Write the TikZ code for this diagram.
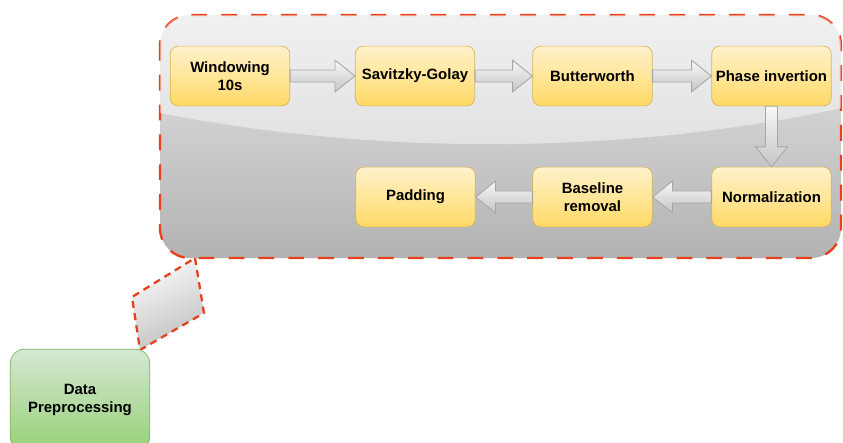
\documentclass[tikz,border=0pt]{standalone}
\usepackage{fontspec}
\setmainfont{Liberation Sans}
\usepackage{tikz}
\usetikzlibrary{calc}

\definecolor{dashred}{RGB}{232,64,28}
\definecolor{boxtop}{HTML}{FFF2CC}
\definecolor{boxbottom}{HTML}{FFD966}
\definecolor{boxline}{HTML}{D6B656}
\definecolor{greentop}{HTML}{D5E8D4}
\definecolor{greenbottom}{HTML}{97D077}
\definecolor{greenline}{HTML}{82B366}

\tikzset{
    stepbox/.style={draw=boxline, top color=boxtop, bottom color=boxbottom,
        rounded corners=4.5pt, minimum width=68pt, minimum height=34pt,
        align=center, inner sep=1pt,
        font=\fontsize{8.5}{10.4}\selectfont\bfseries},
    groupbox/.style={draw=greenline, top color=greentop, bottom color=greenbottom,
        rounded corners=8pt, minimum width=79.4pt, minimum height=57.8pt,
        align=center, font=\fontsize{8.5}{10.4}\selectfont\bfseries},
    blockarrow/.style={draw=gray!70, top color=gray!6, bottom color=gray!45,
        line width=0.5pt, line join=miter},
    reddash/.style={draw=dashred, line width=1.3pt, dash pattern=on 9pt off 8pt}
}

\newcommand{\rightblock}[2]{%
    \shade[blockarrow] let \p1=(#1.east), \p2=(#2.west) in
        (\x1,\y1+3.4pt) -- (\x2-11.3pt,\y1+3.4pt) -- (\x2-11.3pt,\y1+9pt)
        -- (\x2,\y1) -- (\x2-11.3pt,\y1-9pt) -- (\x2-11.3pt,\y1-3.4pt)
        -- (\x1,\y1-3.4pt) -- cycle;}
\newcommand{\leftblock}[2]{%
    \shade[blockarrow] let \p1=(#1.west), \p2=(#2.east) in
        (\x1,\y1+3.4pt) -- (\x2+11.3pt,\y1+3.4pt) -- (\x2+11.3pt,\y1+9pt)
        -- (\x2,\y1) -- (\x2+11.3pt,\y1-9pt) -- (\x2+11.3pt,\y1-3.4pt)
        -- (\x1,\y1-3.4pt) -- cycle;}
\newcommand{\downblock}[2]{%
    \shade[blockarrow] let \p1=(#1.south), \p2=(#2.north) in
        (\x1-3.4pt,\y1) -- (\x1-3.4pt,\y2+11.3pt) -- (\x1-9pt,\y2+11.3pt)
        -- (\x1,\y2) -- (\x1+9pt,\y2+11.3pt) -- (\x1+3.4pt,\y2+11.3pt)
        -- (\x1+3.4pt,\y1) -- cycle;}

\begin{document}
\begin{tikzpicture}[x=0.02cm, y=-0.02cm]
    \useasboundingbox (0,0) rectangle (843,443);
    \clip (0,0) rectangle (843,443);

    % container
    \shade[top color=gray!20, bottom color=gray!60, rounded corners=17pt]
        (160,15) rectangle (841,258);
    \draw[reddash, rounded corners=17pt] (160,15) rectangle (841,258);
    \fill[white, opacity=0.45, rounded corners=17pt]
        (160,113) -- (160,15) -- (841,15) [sharp corners] -- (841,108)
        .. controls (650,150) and (400,160) .. (160,113) -- cycle;

    % link to the group box
    \shade[top color=gray!4, bottom color=gray!50, shading angle=25]
        (195,258) -- (204,313) -- (140,350) -- (132,297) -- cycle;
    \draw[draw=dashred, line width=1.3pt, dash pattern=on 4pt off 3pt]
        (195,258) -- (204,313) -- (140,350) -- (132,297) -- cycle;

    \node[groupbox] (prep) at (80,400) {Data\\Preprocessing};

    \node[stepbox] (win) at (230,76) {Windowing\\10s};
    \node[stepbox] (sg) at (415,76) {Savitzky-Golay};
    \node[stepbox] (bw) at (592.5,76) {Butterworth};
    \node[stepbox] (phase) at (771.5,76) {Phase invertion};
    \node[stepbox] (norm) at (771.5,197) {Normalization};
    \node[stepbox] (base) at (592.5,197) {Baseline\\removal};
    \node[stepbox] (pad) at (415.5,197) {Padding};

    \rightblock{win}{sg}
    \rightblock{sg}{bw}
    \rightblock{bw}{phase}
    \downblock{phase}{norm}
    \leftblock{norm}{base}
    \leftblock{base}{pad}
\end{tikzpicture}
\end{document}
